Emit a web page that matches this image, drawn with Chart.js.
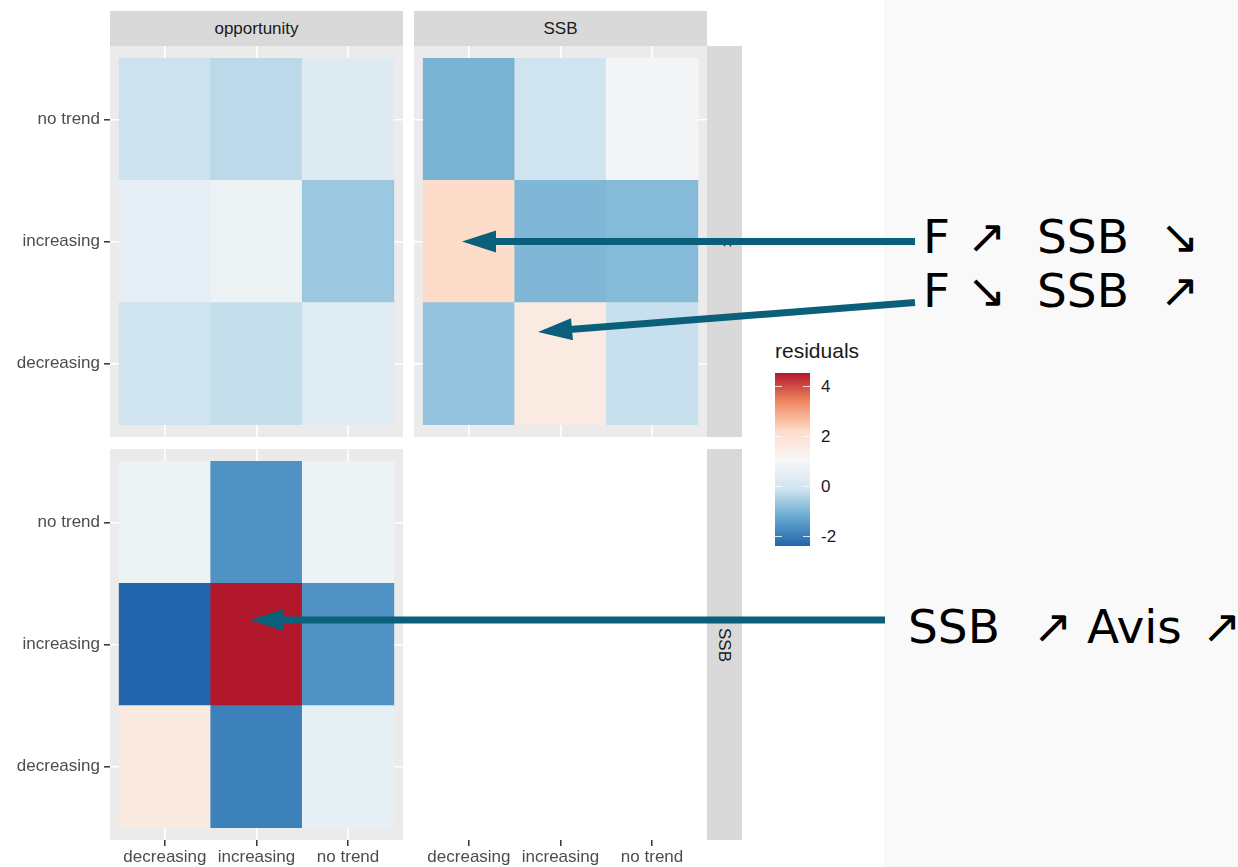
<!DOCTYPE html>
<html>
<head>
<meta charset="utf-8">
<script src="https://cdn.jsdelivr.net/npm/chart.js@4.4.1/dist/chart.umd.min.js"></script>
<style>
  body { margin:0; width:1238px; height:867px; background:#fff; position:relative; overflow:hidden;
         font-family:"Liberation Sans", Arial, sans-serif; }
  .panel { position:absolute; }
  .strip { position:absolute; background:#d9d9d9; color:#1a1a1a; font-size:17px;
           display:flex; align-items:center; justify-content:center; }
  .strip.v span { display:inline-block; transform:rotate(90deg); }
  .big { position:absolute; font-family:"DejaVu Sans"; font-size:47px; line-height:1; white-space:pre; color:#000; }
  .lab { position:absolute; font-size:17px; line-height:20px; color:#1a1a1a; }
</style>
</head>
<body>
<div style="position:absolute;left:884px;top:0;width:354px;height:867px;background:#f9f9f9"></div>

<div class="strip" style="left:110px;top:11px;width:293px;height:35px">opportunity</div>
<div class="strip" style="left:414px;top:11px;width:293px;height:35px">SSB</div>
<div class="strip v" style="left:707px;top:46px;width:35px;height:391px"><span>F</span></div>
<div class="strip v" style="left:707px;top:449px;width:35px;height:391px"><span>SSB</span></div>

<div class="panel" style="left:0;top:46px;width:403px;height:391px"><canvas id="pOppF"></canvas></div>
<div class="panel" style="left:414px;top:46px;width:293px;height:391px"><canvas id="pSsbF"></canvas></div>
<div class="panel" style="left:0;top:449px;width:403px;height:418px"><canvas id="pOppSsb"></canvas></div>
<div class="panel" style="left:414px;top:449px;width:293px;height:418px"><canvas id="pEmpty"></canvas></div>

<div id="legend"></div>

<div class="big" style="left:923px;top:213px">F</div>
<div class="big" style="left:967px;top:213px">↗</div>
<div class="big" style="left:1037px;top:213px">SSB</div>
<div class="big" style="left:1160px;top:213px">↘</div>

<div class="big" style="left:923px;top:267px">F</div>
<div class="big" style="left:967px;top:267px">↘</div>
<div class="big" style="left:1037px;top:267px">SSB</div>
<div class="big" style="left:1160px;top:267px">↗</div>

<div class="big" style="left:908px;top:603px">SSB</div>
<div class="big" style="left:1033px;top:603px">↗</div>
<div class="big" style="left:1087px;top:603px">Avis</div>
<div class="big" style="left:1202px;top:603px">↗</div>

<svg style="position:absolute;left:0;top:0;z-index:10" width="1238" height="867">
  <g stroke="#0a607a" stroke-width="7" fill="#0a607a">
    <line x1="915" y1="241.5" x2="490" y2="241.5"/>
    <polygon stroke="none" points="462,241.5 496,230.5 496,252.5"/>
    <line x1="915" y1="302.5" x2="560" y2="330.3"/>
    <polygon stroke="none" points="538,332 571,318.3 573,340.3"/>
    <line x1="885" y1="620" x2="275" y2="620"/>
    <polygon stroke="none" points="250,620 284,609 284,631"/>
  </g>
</svg>

<script>
const xLabels = ['decreasing', 'increasing', 'no trend'];
const yLabels = ['decreasing', 'increasing', 'no trend'];

// pearson residuals, one row per y category (bottom to top), columns follow xLabels
const residOppF = [
  [-0.09, -0.20, 0.35],
  [0.51, 0.78, -0.64],
  [-0.12, -0.30, 0.33]
];
const residSsbF = [
  [-0.71, 1.58, -0.16],
  [2.20, -0.95, -0.89],
  [-1.03, -0.09, 0.96]
];
const residOppSsb = [
  [1.66, -1.91, 0.57],
  [-2.37, 4.54, -1.61],
  [0.78, -1.61, 0.78]
];
const legendTicks = [-2, 0, 2, 4];

const rdbu = ['#2166ac', '#67a9cf', '#d1e5f0', '#f7f7f7', '#fddbc7', '#ef8a62', '#b2182b'];
const allVals = [residOppF, residSsbF, residOppSsb].flat(2);
const lo = Math.min(...allVals), hi = Math.max(...allVals);

function hex2rgb(h) {
  return [1, 3, 5].map(i => parseInt(h.slice(i, i + 2), 16));
}
function fillFor(v) {
  const t = (v - lo) / (hi - lo) * (rdbu.length - 1);
  const i = Math.max(0, Math.min(Math.floor(t), rdbu.length - 2));
  const f = t - i;
  const a = hex2rgb(rdbu[i]), b = hex2rgb(rdbu[i + 1]);
  const c = a.map((x, k) => Math.round(x + (b[k] - x) * f));
  return 'rgb(' + c.join(',') + ')';
}

Chart.defaults.font.family = '"Liberation Sans", Arial, sans-serif';
Chart.defaults.font.size = 17;

const panelBg = {
  id: 'panelBg',
  beforeDraw(chart) {
    const a = chart.chartArea, ctx = chart.ctx;
    ctx.save();
    ctx.fillStyle = '#ebebeb';
    ctx.fillRect(a.left, a.top, a.width, a.height);
    ctx.restore();
  }
};

function drawPanel(id, resid, showY, showX) {
  const datasets = resid ? yLabels.map((_, r) => ({
    data: xLabels.map((_, c) => ({ x: c + 1, y: [r + 0.5, r + 1.5] })),
    backgroundColor: resid[r].map(fillFor),
    borderWidth: 0,
    grouped: false,
    barPercentage: 1,
    categoryPercentage: 1
  })) : [];

  new Chart(document.getElementById(id), {
    type: 'bar',
    data: { datasets },
    plugins: resid ? [panelBg] : [],
    options: {
      responsive: true,
      maintainAspectRatio: false,
      animation: false,
      events: [],
      layout: { padding: 0 },
      plugins: { legend: { display: false }, tooltip: { enabled: false } },
      scales: {
        x: {
          type: 'linear', min: 0.4, max: 3.6, offset: false,
          afterBuildTicks: s => { s.ticks = xLabels.map((_, i) => ({ value: i + 1 })); },
          afterFit: s => { s.height = showX ? 27 : 0; s.paddingLeft = 0; s.paddingRight = 0; },
          ticks: { display: showX, padding: 1, color: '#4d4d4d', maxRotation: 0, autoSkip: false,
                   callback: v => xLabels[Math.round(v) - 1] },
          grid: { offset: false, color: '#ffffff', lineWidth: 1.6, drawOnChartArea: !!resid,
                  drawTicks: showX, tickLength: 6, tickColor: '#333333', tickWidth: 1.5 },
          border: { display: false }
        },
        y: {
          type: 'linear', min: 0.4, max: 3.6, beginAtZero: false,
          display: !!resid,
          afterBuildTicks: s => { s.ticks = yLabels.map((_, i) => ({ value: i + 1 })); },
          afterFit: s => { s.width = showY ? 110 : 0; s.paddingTop = 0; s.paddingBottom = 0; },
          ticks: { display: showY, padding: 4, color: '#4d4d4d',
                   callback: v => yLabels[Math.round(v) - 1] },
          grid: { color: '#ffffff', lineWidth: 1.6,
                  drawTicks: showY, tickLength: 6, tickColor: '#333333', tickWidth: 1.5 },
          border: { display: false }
        }
      }
    }
  });
}

drawPanel('pOppF', residOppF, true, false);
drawPanel('pSsbF', residSsbF, false, false);
drawPanel('pOppSsb', residOppSsb, true, true);
drawPanel('pEmpty', null, false, true);

// colourbar legend
const bar = { left: 775, top: 373, width: 35, height: 173 };
const legend = document.getElementById('legend');
const stops = rdbu.map((c, i) => c + ' ' + (i / (rdbu.length - 1) * 100).toFixed(1) + '%').join(',');
let html = '<div class="lab" style="left:775px;top:339px;font-size:21px;line-height:24px">residuals</div>';
html += `<div style="position:absolute;left:${bar.left}px;top:${bar.top}px;width:${bar.width}px;height:${bar.height}px;background:linear-gradient(to top,${stops})"></div>`;
legendTicks.forEach(v => {
  const y = bar.top + bar.height - (v - lo) / (hi - lo) * bar.height;
  html += `<div style="position:absolute;left:${bar.left}px;top:${y - 0.5}px;width:7px;height:1px;background:rgba(255,255,255,0.8)"></div>`;
  html += `<div style="position:absolute;left:${bar.left + bar.width - 7}px;top:${y - 0.5}px;width:7px;height:1px;background:rgba(255,255,255,0.8)"></div>`;
  html += `<div class="lab" style="left:821px;top:${y - 10}px">${v}</div>`;
});
legend.innerHTML = html;
</script>
</body>
</html>
